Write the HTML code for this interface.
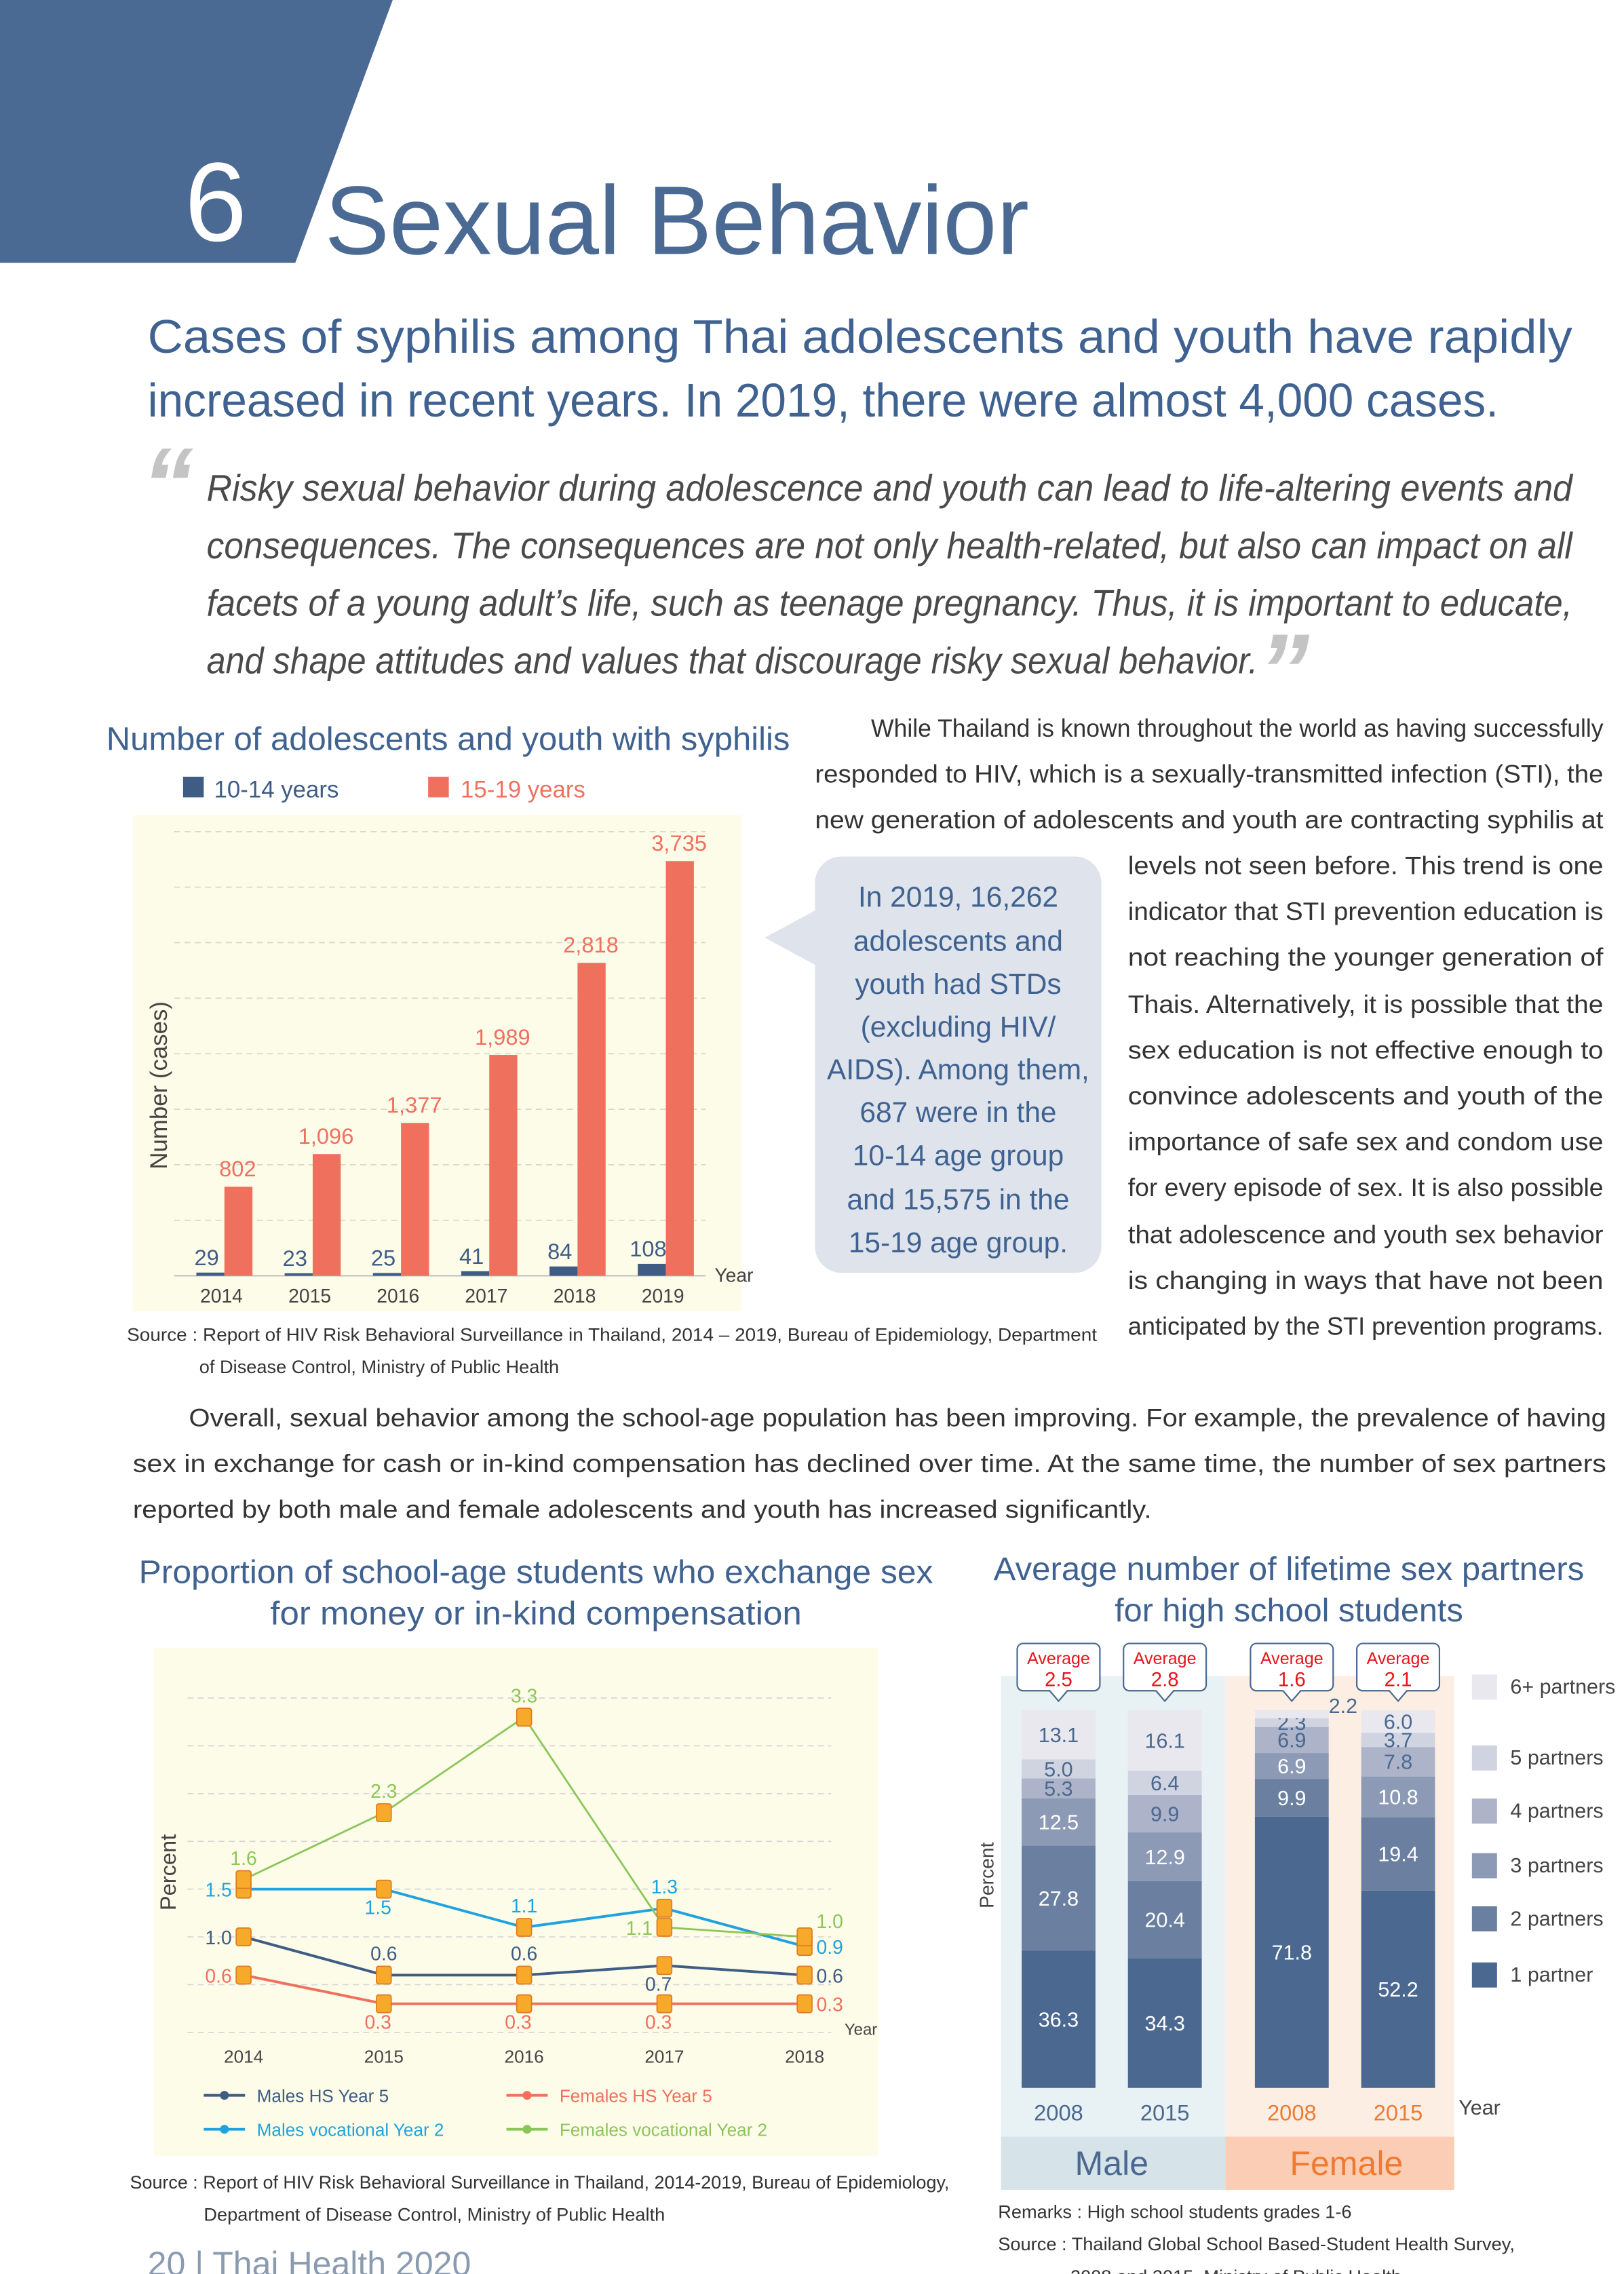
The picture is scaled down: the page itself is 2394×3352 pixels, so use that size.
<!DOCTYPE html>
<html><head><meta charset="utf-8">
<style>
html,body{margin:0;padding:0;background:#fff;}
svg{display:block;font-family:"Liberation Sans",sans-serif;}
</style></head>
<body>
<svg id="pg" width="2394" height="3352" viewBox="0 0 1100 1540" preserveAspectRatio="none" xmlns="http://www.w3.org/2000/svg">
<polygon points="0,0 266,0 200,178 0,178" fill="#4a6a93"/>
<text x="125" y="163" font-size="76" fill="#fff">6</text>
<text x="220" y="172" font-size="66" fill="#4a6a93" textLength="477" lengthAdjust="spacingAndGlyphs">Sexual Behavior</text>
<g fill="#3f6291" font-size="32">
<text x="100" y="239" textLength="965" lengthAdjust="spacingAndGlyphs">Cases of syphilis among Thai adolescents and youth have rapidly</text>
<text x="100" y="282" textLength="915" lengthAdjust="spacingAndGlyphs">increased in recent years. In 2019, there were almost 4,000 cases.</text>
</g>
<g fill="#4a4a4a" font-size="25" font-style="italic">
<text x="96" y="352" font-size="70" fill="#c4c4c4" font-weight="bold">“</text>
<text x="140" y="339" textLength="925" lengthAdjust="spacingAndGlyphs">Risky sexual behavior during adolescence and youth can lead to life-altering events and</text>
<text x="140" y="378" textLength="925" lengthAdjust="spacingAndGlyphs">consequences. The consequences are not only health-related, but also can impact on all</text>
<text x="140" y="417" textLength="925" lengthAdjust="spacingAndGlyphs">facets of a young adult’s life, such as teenage pregnancy. Thus, it is important to educate,</text>
<text x="140" y="456" textLength="712" lengthAdjust="spacingAndGlyphs">and shape attitudes and values that discourage risky sexual behavior.</text>
<text x="852" y="478" font-size="70" fill="#c4c4c4" font-weight="bold">”</text>
</g>
<text x="72" y="508" font-size="22" fill="#3f6291" textLength="463" lengthAdjust="spacingAndGlyphs">Number of adolescents and youth with syphilis</text>
<rect x="124" y="526" width="14" height="14" fill="#3f5c85"/>
<text x="145" y="540" font-size="16" fill="#3f5c85">10-14 years</text>
<rect x="290" y="526" width="14" height="14" fill="#f0705e"/>
<text x="312" y="540" font-size="16" fill="#f0705e">15-19 years</text>
<rect x="90" y="552" width="412" height="336" fill="#fdfce8"/>
<g id="c1"></g>
<text transform="translate(113,735) rotate(-90)" text-anchor="middle" font-size="16" fill="#444">Number (cases)</text>
<text x="484" y="868" font-size="13" fill="#444">Year</text>
<g font-size="12.5" fill="#333">
<text x="86" y="908" textLength="657" lengthAdjust="spacingAndGlyphs">Source : Report of HIV Risk Behavioral Surveillance in Thailand, 2014 – 2019, Bureau of Epidemiology, Department</text>
<text x="135" y="930">of Disease Control, Ministry of Public Health</text>
</g>
<g>
<rect x="552" y="580" width="194" height="282" rx="18" fill="#dfe4ec"/>
<polygon points="555,615 518,635 555,655" fill="#dfe4ec"/>
<g fill="#3f6291" font-size="19.5" text-anchor="middle">
<text x="649" y="614">In 2019, 16,262</text>
<text x="649" y="644">adolescents and</text>
<text x="649" y="673">youth had STDs</text>
<text x="649" y="702">(excluding HIV/</text>
<text x="649" y="731">AIDS). Among them,</text>
<text x="649" y="760">687 were in the</text>
<text x="649" y="789">10-14 age group</text>
<text x="649" y="819">and 15,575 in the</text>
<text x="649" y="848">15-19 age group.</text>
</g></g>
<g fill="#333" font-size="17">
<text x="590" y="499" textLength="496" lengthAdjust="spacingAndGlyphs">While Thailand is known throughout the world as having successfully</text>
<text x="552" y="530" textLength="534" lengthAdjust="spacingAndGlyphs">responded to HIV, which is a sexually-transmitted infection (STI), the</text>
<text x="552" y="561" textLength="534" lengthAdjust="spacingAndGlyphs">new generation of adolescents and youth are contracting syphilis at</text>
<text x="764" y="592" textLength="322" lengthAdjust="spacingAndGlyphs">levels not seen before. This trend is one</text>
<text x="764" y="623" textLength="322" lengthAdjust="spacingAndGlyphs">indicator that STI prevention education is</text>
<text x="764" y="654" textLength="322" lengthAdjust="spacingAndGlyphs">not reaching the younger generation of</text>
<text x="764" y="686" textLength="322" lengthAdjust="spacingAndGlyphs">Thais. Alternatively, it is possible that the</text>
<text x="764" y="717" textLength="322" lengthAdjust="spacingAndGlyphs">sex education is not effective enough to</text>
<text x="764" y="748" textLength="322" lengthAdjust="spacingAndGlyphs">convince adolescents and youth of the</text>
<text x="764" y="779" textLength="322" lengthAdjust="spacingAndGlyphs">importance of safe sex and condom use</text>
<text x="764" y="810" textLength="322" lengthAdjust="spacingAndGlyphs">for every episode of sex. It is also possible</text>
<text x="764" y="842" textLength="322" lengthAdjust="spacingAndGlyphs">that adolescence and youth sex behavior</text>
<text x="764" y="873" textLength="322" lengthAdjust="spacingAndGlyphs">is changing in ways that have not been</text>
<text x="764" y="904" textLength="322" lengthAdjust="spacingAndGlyphs">anticipated by the STI prevention programs.</text>
</g>
<g fill="#333" font-size="17">
<text x="128" y="966" textLength="960" lengthAdjust="spacingAndGlyphs">Overall, sexual behavior among the school-age population has been improving. For example, the prevalence of having</text>
<text x="90" y="997" textLength="998" lengthAdjust="spacingAndGlyphs">sex in exchange for cash or in-kind compensation has declined over time. At the same time, the number of sex partners</text>
<text x="90" y="1028" textLength="690" lengthAdjust="spacingAndGlyphs">reported by both male and female adolescents and youth has increased significantly.</text>
</g>
<g fill="#3f6291" font-size="22" text-anchor="middle">
<text x="363" y="1072" textLength="538" lengthAdjust="spacingAndGlyphs">Proportion of school-age students who exchange sex</text>
<text x="363" y="1100" textLength="360" lengthAdjust="spacingAndGlyphs">for money or in-kind compensation</text>
</g>
<rect x="104" y="1116" width="491" height="344" fill="#fdfce8"/>
<g id="c2"></g>
<text transform="translate(119,1268) rotate(-90)" text-anchor="middle" font-size="15" fill="#444">Percent</text>
<text x="572" y="1378" font-size="11" fill="#444">Year</text>
<g font-size="12.5" fill="#333">
<text x="88" y="1482" textLength="555" lengthAdjust="spacingAndGlyphs">Source : Report of HIV Risk Behavioral Surveillance in Thailand, 2014-2019, Bureau of Epidemiology,</text>
<text x="138" y="1504">Department of Disease Control, Ministry of Public Health</text>
</g>
<g fill="#3f6291" font-size="22" text-anchor="middle">
<text x="873" y="1070" textLength="400" lengthAdjust="spacingAndGlyphs">Average number of lifetime sex partners</text>
<text x="873" y="1098" textLength="236" lengthAdjust="spacingAndGlyphs">for high school students</text>
</g>
<rect x="678" y="1135" width="152" height="315" fill="#e8f1f4"/>
<rect x="830" y="1135" width="155" height="315" fill="#fdeee4"/>
<rect x="678" y="1447" width="152" height="36" fill="#d6e4ea"/>
<rect x="830" y="1447" width="155" height="36" fill="#fbcdb4"/>
<text x="753" y="1473" font-size="23" fill="#4a6890" text-anchor="middle">Male</text>
<text x="912" y="1473" font-size="23" fill="#f07a30" text-anchor="middle">Female</text>
<g id="c3"></g>
<text x="988" y="1432" font-size="14" fill="#444">Year</text>
<text transform="translate(673,1270) rotate(-90)" text-anchor="middle" font-size="13" fill="#444">Percent</text>
<g font-size="12.5" fill="#333">
<text x="676" y="1502">Remarks : High school students grades 1-6</text>
<text x="676" y="1524" textLength="350" lengthAdjust="spacingAndGlyphs">Source : Thailand Global School Based-Student Health Survey,</text>
<text x="725" y="1546">2008 and 2015, Ministry of Public Health</text>
</g>
<text x="100" y="1541" font-size="23" fill="#8a9bb0">20  |  Thai Health 2020</text>
</svg>
<script>
// ===== Chart 1: syphilis cases =====
const years1 = ['2014','2015','2016','2017','2018','2019'];
const cases1014 = [29,23,25,41,84,108];
const cases1519 = [802,1096,1377,1989,2818,3735];
const ticks1 = [500,1000,1500,2000,2500,3000,3500,4000];
// ===== Chart 2: exchange sex =====
const years2 = ['2014','2015','2016','2017','2018'];
const seriesNames2 = ['Males HS Year 5','Females HS Year 5','Males vocational Year 2','Females vocational Year 2'];
const malesHS = [1.0,0.6,0.6,0.7,0.6];
const femalesHS = [0.6,0.3,0.3,0.3,0.3];
const malesVoc = [1.5,1.5,1.1,1.3,0.9];
const femalesVoc = [1.6,2.3,3.3,1.1,1.0];
const ticks2 = [0,0.5,1,1.5,2,2.5,3,3.5];
// ===== Chart 3: partners =====
const groups3 = ['2008','2015','2008','2015'];
const partnerCats = ['1 partner','2 partners','3 partners','4 partners','5 partners','6+ partners'];
const p1 = [36.3,34.3,71.8,52.2];
const p2 = [27.8,20.4,9.9,19.4];
const p3 = [12.5,12.9,6.9,10.8];
const p4 = [5.3,9.9,6.9,7.8];
const p5 = [5.0,6.4,2.3,3.7];
const p6 = [13.1,16.1,2.2,6.0];
const averages = [2.5,2.8,1.6,2.1];

const NS='http://www.w3.org/2000/svg';
function mk(parent,tag,attrs,txt){const e=document.createElementNS(NS,tag);for(const k in attrs)e.setAttribute(k,attrs[k]);if(txt!==undefined)e.textContent=txt;parent.appendChild(e);return e;}
const fmt=v=>v.toLocaleString('en-US');

// chart 1
const c1=document.getElementById('c1');
const x1=i=>150+i*59.8;
const y1=v=>864-v*0.0752;
ticks1.forEach(t=>{
  const g=mk(c1,'line',{x1:118,x2:478,y1:y1(t),y2:y1(t),stroke:'#d8d8d0','stroke-dasharray':'4,3','stroke-width':0.8});
  
  
});
const ax1=mk(c1,'line',{x1:118,x2:478,y1:864,y2:864,stroke:'#bbb','stroke-width':0.8});


years1.forEach((yr,i)=>{
  const c=x1(i);
  const b=mk(c1,'rect',{x:c-17,y:y1(cases1014[i]),width:19,height:864-y1(cases1014[i]),fill:'#3f5c85'});
  
  
  const r=mk(c1,'rect',{x:c+2,y:y1(cases1519[i]),width:19,height:864-y1(cases1519[i]),fill:'#f0705e'});
  
  
  const l1=mk(c1,'text',{x:c-10,y:y1(cases1014[i])-5,'font-size':15,fill:'#3f5c85','text-anchor':'middle'},fmt(cases1014[i]));
  
  
  const l2=mk(c1,'text',{x:c+11,y:y1(cases1519[i])-7,'font-size':15,fill:'#f0705e','text-anchor':'middle'},fmt(cases1519[i]));
  
  
  const xl=mk(c1,'text',{x:c,y:882,'font-size':13,fill:'#444','text-anchor':'middle'},yr);
  
  
});

// chart 2
const c2=document.getElementById('c2');
const x2=i=>165+i*95;
const y2=v=>1376.4-v*64.7;
ticks2.forEach(t=>{
  const g=mk(c2,'line',{x1:127,x2:563,y1:y2(t),y2:y2(t),stroke:'#d6d6d6','stroke-dasharray':'4,3','stroke-width':0.8});
  
  
});
const series2=[malesHS,femalesHS,malesVoc,femalesVoc];
const colors2=['#3f5c85','#f0705e','#1fa3e0','#8cc65a'];
const keys2=['males-hs','females-hs','males-voc','females-voc'];
const labelPos2=[['l','a','a','b','r'],['l','b','b','b','r'],['l','b','a','a','r'],['a','a','a','l','ar']];
series2.forEach((s,k)=>{
  const pts=s.map((v,i)=>x2(i)+','+y2(v)).join(' ');
  const pl=mk(c2,'polyline',{points:pts,fill:'none',stroke:colors2[k],'stroke-width':k==3?1.3:1.8});
  
  
});
series2.forEach((s,k)=>{
  s.forEach((v,i)=>{
    const cx=x2(i),cy=y2(v);
    const m=mk(c2,'rect',{x:cx-5,y:cy-6,width:10,height:12,rx:1.5,fill:'#f7a92a',stroke:'#e07b22','stroke-width':0.8});
    
    
    const p=labelPos2[k][i];
    let lx=cx,ly=cy-10,anc='middle';
    if(p==='l'){lx=cx-8;ly=cy+5;anc='end';}
    if(p==='b'){ly=cy+17;lx=cx-4;}
    if(p==='r'){lx=cx+8;ly=cy+5;anc='start';}
    if(p==='ar'){lx=cx+8;ly=cy-6;anc='start';}
    if(p==='a'){ly=cy-10;}
    const t=mk(c2,'text',{x:lx,y:ly,'font-size':13,fill:colors2[k],'text-anchor':anc},v.toFixed(1));
    
    
  });
});
years2.forEach((yr,i)=>{
  const t=mk(c2,'text',{x:x2(i),y:1397,'font-size':12,fill:'#444','text-anchor':'middle'},yr);
  
  
});
const legOrder=[[0,138,1419],[1,343,1419],[2,138,1442],[3,343,1442]];
legOrder.forEach(([k,lx,ly])=>{
  const ln=mk(c2,'line',{x1:lx,x2:lx+28,y1:ly,y2:ly,stroke:colors2[k],'stroke-width':1.8});
  
  
  const d=mk(c2,'circle',{cx:lx+14,cy:ly,r:3,fill:colors2[k]});
  
  
  const t=mk(c2,'text',{x:lx+36,y:ly+4.5,'font-size':12,fill:colors2[k]},seriesNames2[k]);
  
  
});

// chart 3
const c3=document.getElementById('c3');
const barX3=[692,764,850,922];
const base3=1414, k3=2.56;
const segs=[p1,p2,p3,p4,p5,p6];
const segColors=['#4a6890','#6b7fa0','#8c9ab5','#adb4c9','#d0d3e0','#e8e8ee'];
const segText=['#fff','#fff','#fff','#4a6890','#4a6890','#4a6890'];
groups3.forEach((g,i)=>{
  let acc=0;
  segs.forEach((s,j)=>{
    const v=s[i];
    const yTop=base3-(acc+v)*k3, h=v*k3;
    const r=mk(c3,'rect',{x:barX3[i],y:yTop,width:50,height:h,fill:segColors[j]});
    
    
    let lx=barX3[i]+25, ly=yTop+h/2+5;
    if(v<2.25 && j==5){lx=barX3[i]+50;ly=yTop+2;}
    const t=mk(c3,'text',{x:lx,y:ly,'font-size':14,fill:segText[j],'text-anchor':lx>barX3[i]+25?'start':'middle'},v.toFixed(1));
    
    
    acc+=v;
  });
  const cx=barX3[i]+25;
  const cb=mk(c3,'path',{d:`M${cx-24},${1113} h48 a4,4 0 0 1 4,4 v24 a4,4 0 0 1 -4,4 h-18 l-6,7 l-6,-7 h-18 a4,4 0 0 1 -4,-4 v-24 a4,4 0 0 1 4,-4 z`,fill:'#fff',stroke:'#4a6890','stroke-width':1});
  
  
  const a1=mk(c3,'text',{x:cx,y:1127,'font-size':11.5,fill:'#e8141c','text-anchor':'middle'},'Average');
  
  
  const a2=mk(c3,'text',{x:cx,y:1142,'font-size':13.5,fill:'#e8141c','text-anchor':'middle'},averages[i].toFixed(1));
  
  
  const yl=mk(c3,'text',{x:cx,y:1436,'font-size':15,fill:i<2?'#4a6890':'#f07a30','text-anchor':'middle'},g);
  
  
});
const legY3=[1337,1299,1263,1226,1190,1142];
partnerCats.forEach((c,j)=>{
  const r=mk(c3,'rect',{x:997,y:legY3[j]-8,width:17,height:17,fill:segColors[j]});
  
  
  const t=mk(c3,'text',{x:1023,y:legY3[j]+5,'font-size':14,fill:'#444'},c);
  
  
});
</script>
</body></html>
